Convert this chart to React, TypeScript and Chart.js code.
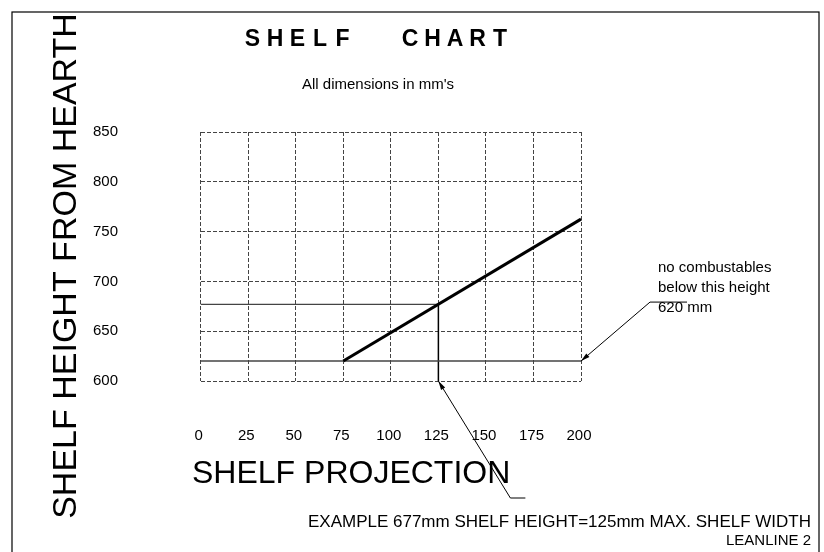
import { useEffect, useRef } from "react";
import { Chart, registerables } from "chart.js";

Chart.register(...registerables);

// ---- data ----
const xTicks = [0, 25, 50, 75, 100, 125, 150, 175, 200];
const yTicks = [600, 650, 700, 750, 800, 850];
const limitX = [75, 200];
const limitY = [620, 762.5];
const exampleX = [0, 125];
const exampleY = [677, 677];
const minHeightX = [0, 200];
const minHeightY = [620, 620];
const dropX = [125, 125];
const dropY = [677, 600];

const chartTitle = "SHELF  CHART";
const subTitle = "All dimensions in mm's";
const yTitle = "SHELF HEIGHT FROM HEARTH";
const xTitle = "SHELF PROJECTION";
const noteLines = ["no combustables", "below this height", "620 mm"];
const exampleNote = "EXAMPLE 677mm SHELF HEIGHT=125mm MAX. SHELF WIDTH";
const drawingRef = "LEANLINE 2";

const FONT = "'Liberation Sans', Arial, sans-serif";

const pts = (xs: number[], ys: number[]) => xs.map((x, i) => ({ x, y: ys[i] }));

function arrowHead(ctx: CanvasRenderingContext2D, tx: number, ty: number, fx: number, fy: number) {
  const ang = Math.atan2(ty - fy, tx - fx);
  const len = 9;
  const hw = 2.4;
  ctx.beginPath();
  ctx.moveTo(tx, ty);
  ctx.lineTo(tx - len * Math.cos(ang) + hw * Math.sin(ang), ty - len * Math.sin(ang) - hw * Math.cos(ang));
  ctx.lineTo(tx - len * Math.cos(ang) - hw * Math.sin(ang), ty - len * Math.sin(ang) + hw * Math.cos(ang));
  ctx.closePath();
  ctx.fill();
}

const drawingPlugin = {
  id: "drawingSheet",
  afterDraw(chart: any) {
    const ctx: CanvasRenderingContext2D = chart.ctx;
    const xs = chart.scales.x;
    const ys = chart.scales.y;
    ctx.save();
    ctx.fillStyle = "#000";
    ctx.strokeStyle = "#000";

    // frame
    ctx.lineWidth = 1.2;
    ctx.strokeRect(12, 12, 807, 560);

    // title, monospaced-like pitch
    ctx.font = `bold 23px ${FONT}`;
    ctx.textAlign = "center";
    ctx.textBaseline = "alphabetic";
    const pitch = 22.5;
    for (let i = 0; i < chartTitle.length; i++) {
      const cx = 252.5 + i * pitch;
      ctx.fillText(chartTitle[i], cx, 46);
    }

    ctx.font = `15px ${FONT}`;
    ctx.fillText(subTitle, 378, 89);

    // y title
    ctx.save();
    ctx.translate(76, 266);
    ctx.rotate(-Math.PI / 2);
    ctx.font = `34px ${FONT}`;
    ctx.textAlign = "center";
    ctx.fillText(yTitle, 0, 0);
    ctx.restore();

    // x title
    ctx.font = `32px ${FONT}`;
    ctx.textAlign = "left";
    ctx.fillText(xTitle, 192, 483);

    // notes
    ctx.font = `15px ${FONT}`;
    noteLines.forEach((t, i) => ctx.fillText(t, 658, 272 + i * 20));

    ctx.textAlign = "right";
    ctx.font = `17px ${FONT}`;
    ctx.fillText(exampleNote, 811, 527);
    ctx.font = `15px ${FONT}`;
    ctx.fillText(drawingRef, 811, 545);

    // leaders
    ctx.lineWidth = 1;
    const t1x = xs.getPixelForValue(minHeightX[1]);
    const t1y = ys.getPixelForValue(minHeightY[1]);
    const e1x = t1x + 69, e1y = t1y - 59;
    ctx.beginPath();
    ctx.moveTo(t1x, t1y);
    ctx.lineTo(e1x, e1y);
    ctx.lineTo(e1x + 37, e1y);
    ctx.stroke();
    arrowHead(ctx, t1x, t1y, e1x, e1y);

    const t2x = xs.getPixelForValue(dropX[1]);
    const t2y = ys.getPixelForValue(dropY[1]);
    const e2x = t2x + 72, e2y = t2y + 117;
    ctx.beginPath();
    ctx.moveTo(t2x, t2y);
    ctx.lineTo(e2x, e2y);
    ctx.lineTo(e2x + 15, e2y);
    ctx.stroke();
    arrowHead(ctx, t2x, t2y, e2x, e2y);

    ctx.restore();
  },
};

export default function App() {
  const ref = useRef<HTMLCanvasElement | null>(null);
  useEffect(() => {
    document.body.style.margin = "0";
    const canvas = ref.current;
    if (!canvas) return;
    const chart = new Chart(canvas, {
      type: "line",
      data: {
        datasets: [
          { data: pts(limitX, limitY), borderColor: "#000", borderWidth: 3, pointRadius: 0, clip: false } as any,
          { data: pts(exampleX, exampleY), borderColor: "#444", borderWidth: 1.3, pointRadius: 0, clip: false } as any,
          { data: pts(minHeightX, minHeightY), borderColor: "#444", borderWidth: 1.5, pointRadius: 0, clip: false } as any,
          { data: pts(dropX, dropY), borderColor: "#000", borderWidth: 1.5, pointRadius: 0, clip: false } as any,
        ],
      },
      options: {
        responsive: false,
        animation: false,
        devicePixelRatio: 1,
        layout: { padding: { left: 93, right: 243, top: 132, bottom: 101 } },
        plugins: { legend: { display: false }, tooltip: { enabled: false }, title: { display: false } },
        events: [],
        scales: {
          x: {
            type: "linear",
            min: 0,
            max: 200,
            afterBuildTicks: (s: any) => { s.ticks = xTicks.map((v) => ({ value: v })); },
            afterFit: (s: any) => { s.height = 70; },
            grid: { color: "#444", lineWidth: 1, drawTicks: false },
            border: { display: false, dash: [4, 2] },
            ticks: {
              font: { family: FONT, size: 15 },
              color: "#000",
              padding: 46,
              labelOffset: -2,
              maxRotation: 0,
              autoSkip: false,
            },
          },
          y: {
            type: "linear",
            min: 600,
            max: 850,
            afterBuildTicks: (s: any) => { s.ticks = yTicks.map((v) => ({ value: v })); },
            afterFit: (s: any) => { s.width = 107.7; },
            grid: { color: "#444", lineWidth: 1, drawTicks: false },
            border: { display: false, dash: [4, 2] },
            ticks: {
              font: { family: FONT, size: 15 },
              color: "#000",
              padding: 0,
              crossAlign: "far",
              autoSkip: false,
            },
          },
        },
      } as any,
      plugins: [drawingPlugin],
    });
    return () => chart.destroy();
  }, []);
  return (
    <div style={{ position: "absolute", left: 0, top: 0, width: 824, height: 552 }}>
      <canvas ref={ref} width={824} height={552} style={{ display: "block" }} />
    </div>
  );
}
